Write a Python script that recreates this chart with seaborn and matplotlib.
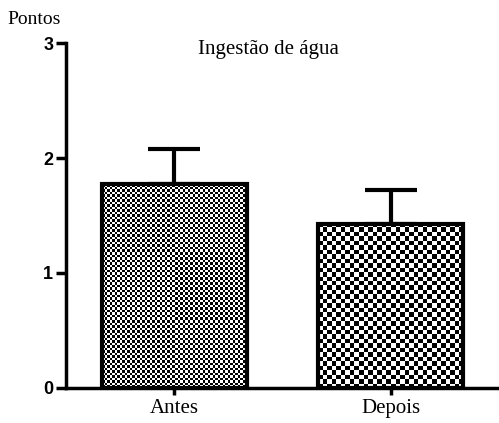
import numpy as np
import pandas as pd
import matplotlib
matplotlib.use("Agg")
import matplotlib.pyplot as plt
import seaborn as sns

categories = ["Antes", "Depois"]
means = [1.77, 1.43]
errors = [0.31, 0.29]
yticks = [0, 1, 2, 3]
title = "Ingestão de água"
ylabel = "Pontos"
cell_px = [2.5, 4.5]

sns.set_style("ticks")
plt.rcParams["font.family"] = ["Liberation Serif", "DejaVu Serif"]
plt.rcParams["text.color"] = "black"
plt.rcParams["xtick.color"] = "black"
plt.rcParams["ytick.color"] = "black"
plt.rcParams["axes.edgecolor"] = "black"

df = pd.DataFrame({"grupo": categories, "valor": means})

fig = plt.figure(figsize=(4.99, 4.23), dpi=100)
ax = fig.add_axes([0.132, 0.083, 0.868, 0.815])

sns.barplot(data=df, x="grupo", y="valor", ax=ax, width=0.67,
            color="white", edgecolor="black", linewidth=3, errorbar=None, zorder=2)
for p in ax.patches:
    p.set_facecolor("none")

# upper error bars
xs = np.arange(len(categories))
ax.errorbar(xs, means, yerr=[np.zeros(len(errors)), errors], fmt="none",
            ecolor="black", elinewidth=3, capsize=19, capthick=3, zorder=1)

ax.set_ylim(0, 3)
ax.set_xlim(-0.5, 1.5)
fig.canvas.draw()

# checkerboard fill textures clipped to bars
for patch, cp in zip(ax.patches, cell_px):
    bb = patch.get_window_extent()
    nx = max(1, int(round(bb.width / cp)))
    ny = max(1, int(round(bb.height / cp)))
    checker = (np.indices((ny, nx)).sum(axis=0) % 2).astype(float)
    x0, y0 = patch.get_x(), patch.get_y()
    w, h = patch.get_width(), patch.get_height()
    im = ax.imshow(checker, cmap="gray", vmin=0, vmax=1, interpolation="nearest",
                   extent=[x0, x0 + w, y0, y0 + h], aspect="auto", zorder=1.5)
ax.set_xlim(-0.5, 1.5)
ax.set_ylim(0, 3)

ax.set_yticks(yticks)
ax.set_yticklabels([str(t) for t in yticks], family="Liberation Sans",
                   fontweight="bold", fontsize=13)
ax.set_xticks(xs)
ax.set_xticklabels(categories, fontsize=15)
ax.tick_params(axis="y", length=7, width=2.5, pad=2)
ax.tick_params(axis="x", length=5, width=2.5, pad=3)
ax.set_xlabel("")
ax.set_ylabel("")
for s in ["top", "right"]:
    ax.spines[s].set_visible(False)
for s in ["left", "bottom"]:
    ax.spines[s].set_linewidth(2.5)

fig.text(0.537, 0.882, title, ha="center", va="center", fontsize=15)
fig.text(0.015, 0.955, ylabel, ha="left", va="center", fontsize=14)

fig.savefig("out.png", dpi=100)
